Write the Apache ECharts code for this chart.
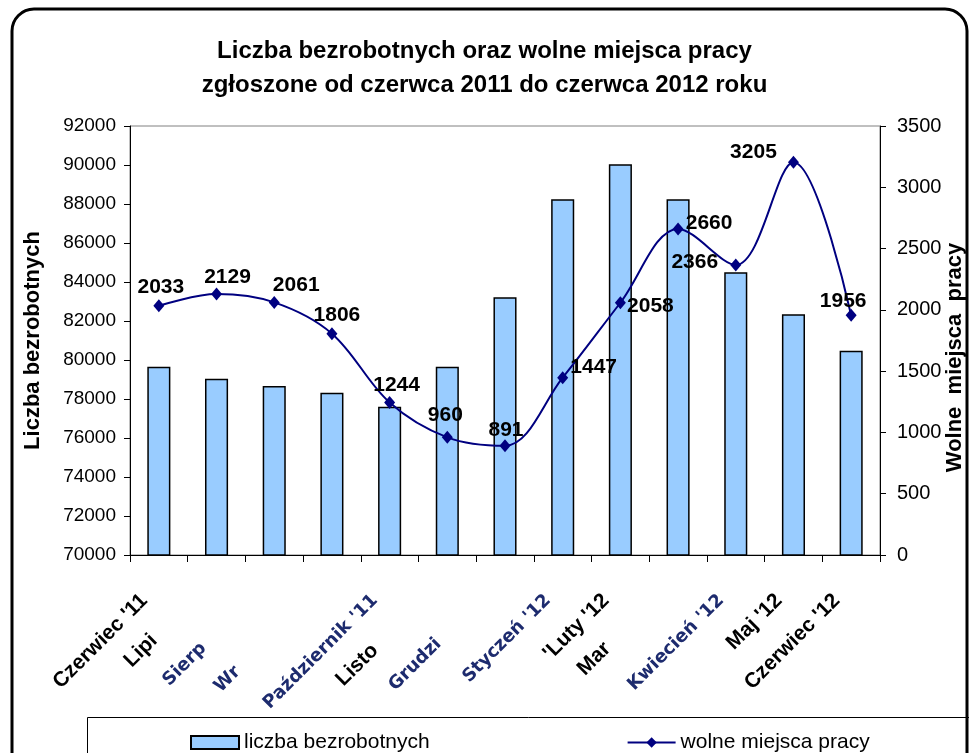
<!DOCTYPE html>
<html>
<head>
<meta charset="utf-8">
<script src="https://cdn.jsdelivr.net/npm/echarts@6/dist/echarts.min.js"></script>
<style>
html,body{margin:0;padding:0;background:#fff;}
#chart{width:969px;height:753px;}
</style>
</head>
<body>
<div id="chart"></div>
<script>
// ---- data ----
const categories = ["Czerwiec '11", "Lipiec '11", "Sierpień '11", "Wrzesień '11", "Październik '11", "Listopad '11", "Grudzień '11", "Styczeń '12", "'Luty '12", "Marzec '12", "Kwiecień '12", "Maj '12", "Czerwiec '12"];
const visibleLabels = ["Czerwiec '11", "Lipi", "Sierp", "Wr", "Październik '11", "Listo", "Grudzi", "Styczeń '12", "'Luty '12", "Mar", "Kwiecień '12", "Maj '12", "Czerwiec '12"];
const unemployed = [79650, 79040, 78670, 78320, 77600, 79650, 83215, 88240, 90040, 88240, 84500, 82340, 80480];
const vacancies = [2033, 2129, 2061, 1806, 1244, 960, 891, 1447, 2058, 2660, 2366, 3205, 1956];
const leftTicks = { min: 70000, max: 92000, interval: 2000 };
const rightTicks = { min: 0, max: 3500, interval: 500 };
const seriesNames = ['liczba bezrobotnych', 'wolne miejsca pracy'];
const titleText = 'Liczba bezrobotnych oraz wolne miejsca pracy\nzgłoszone od czerwca 2011 do czerwca 2012 roku';
const leftAxisName = 'Liczba bezrobotnych';
const rightAxisName = 'Wolne  miejsca  pracy';

// ---- styling ----
const labelTone = ['k','k','b','b','b','k','b','b','k','k','b','k','k'];
const labelOffsets = [[2,-19],[11,-17],[22,-17],[5,-18],[7,-17],[-2,-22],[1,-16],[31,-10],[30,3],[31,-6],[-41,-3],[-40,-10],[-8,-14]];
const FONT = '"Liberation Sans", Arial, sans-serif';
const FONT_B = '"DejaVu Sans", Verdana, sans-serif';

const cv = document.createElement('canvas').getContext('2d');
function tw(text, font) { cv.font = font; return cv.measureText(text).width; }

const rich = {};
categories.forEach((c, i) => {
  const blue = labelTone[i] === 'b';
  const size = blue ? 18 : 21;
  const fam = blue ? FONT_B : FONT;
  const f = 'bold ' + size + 'px ' + fam;
  const truncated = visibleLabels[i] !== c;
  const cut = tw(c, f) - tw(visibleLabels[i], f);
  rich['r' + i] = {
    fontFamily: fam, fontWeight: 'bold', fontSize: size,
    color: blue ? '#1d2b6e' : '#000',
    padding: [0, 15.6 + cut + (truncated ? 5.7 : 0), 10 + (truncated ? 11.3 : 0), 0]
  };
});

const plain = v => String(v);

const chart = echarts.init(document.getElementById('chart'), null, { renderer: 'canvas' });
chart.setOption({
  animation: false,
  backgroundColor: '#fff',
  title: {
    text: titleText, left: 'center', top: 29,
    textStyle: { fontFamily: FONT, fontWeight: 'bold', fontSize: 24, lineHeight: 34, color: '#000' }
  },
  graphic: [
    { type: 'rect', shape: { x: 12, y: 9, width: 955, height: 790, r: 22 }, style: { fill: 'none', stroke: '#000', lineWidth: 3 }, z: 100 },
    { type: 'rect', shape: { x: 87.5, y: 717.5, width: 900, height: 60 }, style: { fill: 'none', stroke: '#000', lineWidth: 1 }, z: 100 }
  ],
  legend: {
    left: 185, top: 727, itemWidth: 48, itemHeight: 13, itemGap: 197,
    textStyle: { fontFamily: FONT, fontSize: 21, color: '#000' },
    data: [
      { name: seriesNames[0], icon: 'rect' },
      { name: seriesNames[1] }
    ]
  },
  grid: { left: 130, right: 89, top: 126, bottom: 198, containLabel: false, outerBoundsMode: 'none', show: true, borderColor: '#808080', borderWidth: 1 },
  xAxis: {
    type: 'category', data: categories, boundaryGap: true,
    axisLine: { lineStyle: { color: '#000', width: 1 } },
    axisTick: { show: true, length: 7, interval: 0, lineStyle: { color: '#000' } },
    axisLabel: {
      interval: 0, rotate: 45, margin: 35,
      formatter: (v, i) => '{r' + i + '|' + visibleLabels[i] + '}',
      rich: rich
    }
  },
  yAxis: [
    {
      type: 'value', min: leftTicks.min, max: leftTicks.max, interval: leftTicks.interval,
      name: leftAxisName, nameLocation: 'middle', nameGap: 86, nameMoveOverlap: false,
      nameTextStyle: { fontFamily: FONT, fontWeight: 'bold', fontSize: 22, color: '#000' },
      axisLine: { show: true, lineStyle: { color: '#000' } },
      axisTick: { show: true, length: 6, lineStyle: { color: '#000' } },
      axisLabel: { fontFamily: FONT, fontSize: 19, color: '#000', margin: 14, formatter: plain },
      splitLine: { show: false }
    },
    {
      type: 'value', min: rightTicks.min, max: rightTicks.max, interval: rightTicks.interval,
      name: rightAxisName, nameLocation: 'middle', nameGap: 64, nameMoveOverlap: false,
      nameTextStyle: { fontFamily: FONT, fontWeight: 'bold', fontSize: 22, color: '#000', padding: [0, 34, 0, 0] },
      axisLine: { show: true, lineStyle: { color: '#000' } },
      axisTick: { show: true, length: 6, lineStyle: { color: '#000' } },
      axisLabel: { fontFamily: FONT, fontSize: 20, color: '#000', margin: 17, formatter: plain },
      splitLine: { show: false }
    }
  ],
  series: [
    {
      name: seriesNames[0], type: 'bar', yAxisIndex: 0, data: unemployed, barWidth: '40%',
      itemStyle: { color: '#99CCFF', borderColor: '#000', borderWidth: 1.5 }
    },
    {
      name: seriesNames[1], type: 'line', yAxisIndex: 1, smooth: 0.35, z: 5,
      data: vacancies.map((v, i) => ({ value: v, label: { offset: labelOffsets[i] } })),
      symbol: 'diamond', symbolSize: [11, 13],
      itemStyle: { color: '#000080' },
      lineStyle: { color: '#000080', width: 2 },
      label: {
        show: true, position: 'inside',
        fontFamily: FONT, fontWeight: 'bold', fontSize: 21, color: '#000'
      }
    }
  ]
});
</script>
</body>
</html>
